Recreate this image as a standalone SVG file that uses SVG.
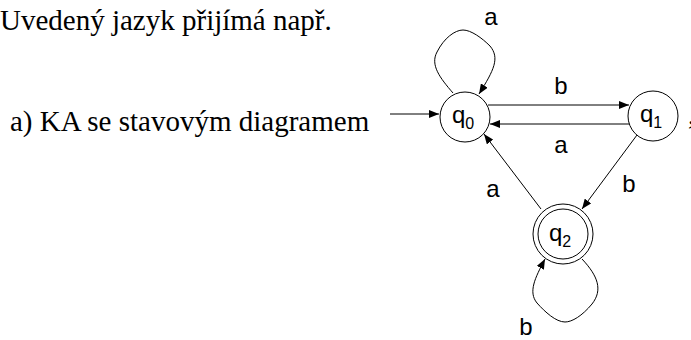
<svg xmlns="http://www.w3.org/2000/svg" width="691" height="340" viewBox="0 0 691 340">
<style>
.serif{font-family:"Liberation Serif","Times New Roman",serif;font-size:29px;fill:#000}
.sans{font-family:"Liberation Sans",Arial,sans-serif;font-size:24px;fill:#000}
.sub{font-size:16px}
.st{fill:#fff;stroke:#000;stroke-width:1}
.edge{fill:none;stroke:#000;stroke-width:1;marker-end:url(#ah)}
</style>
<defs>
<marker id="ah" viewBox="0 0 10 8" refX="10" refY="4" markerWidth="10" markerHeight="8" markerUnits="userSpaceOnUse" orient="auto">
<path d="M0,0 L10,4 L0,8 z" fill="#000"/>
</marker>
</defs>
<text class="serif" x="0" y="30">Uvedený jazyk přijímá např.</text>
<text class="serif" x="10" y="131">a) KA se stavovým diagramem</text>
<text class="serif" x="688" y="124" fill="#666">,</text>
<g id="connectors">
<path class="edge" d="M390,114 L439,114"/>
<path class="edge" d="M488,105 L629,105"/>
<path class="edge" d="M629,124 L490,124"/>
<path class="edge" d="M541,209 L484,134"/>
<path class="edge" d="M637,135 L582,209"/>
<path class="edge" d="M453,93 C440,78 430,65 437,52 C444,38 455,30 463,30 C471,30 482,38 490,46 C500,58 494,70 479,94"/>
<path class="edge" d="M582,259 C598,276 603,290 592,304 C582,316 572,322 565,322 C556,322 545,312 537,303 C528,292 535,278 545,259"/>
</g>
<g id="q0">
<circle class="st" cx="465" cy="117" r="25"/>
<text class="sans" x="452" y="123">q<tspan class="sub" dy="6">0</tspan></text>
</g>
<g id="q1">
<circle class="st" cx="653" cy="116" r="25"/>
<text class="sans" x="640" y="122">q<tspan class="sub" dy="6">1</tspan></text>
</g>
<g id="q2">
<circle class="st" cx="563" cy="234" r="30"/>
<circle class="st" cx="563" cy="234" r="25"/>
<text class="sans" x="549" y="241">q<tspan class="sub" dy="6">2</tspan></text>
</g>
<g id="labels">
<text class="sans" x="491" y="25" text-anchor="middle">a</text>
<text class="sans" x="561" y="94" text-anchor="middle">b</text>
<text class="sans" x="561" y="153" text-anchor="middle">a</text>
<text class="sans" x="493" y="197" text-anchor="middle">a</text>
<text class="sans" x="629" y="192" text-anchor="middle">b</text>
<text class="sans" x="526" y="335" text-anchor="middle">b</text>
</g>
</svg>
